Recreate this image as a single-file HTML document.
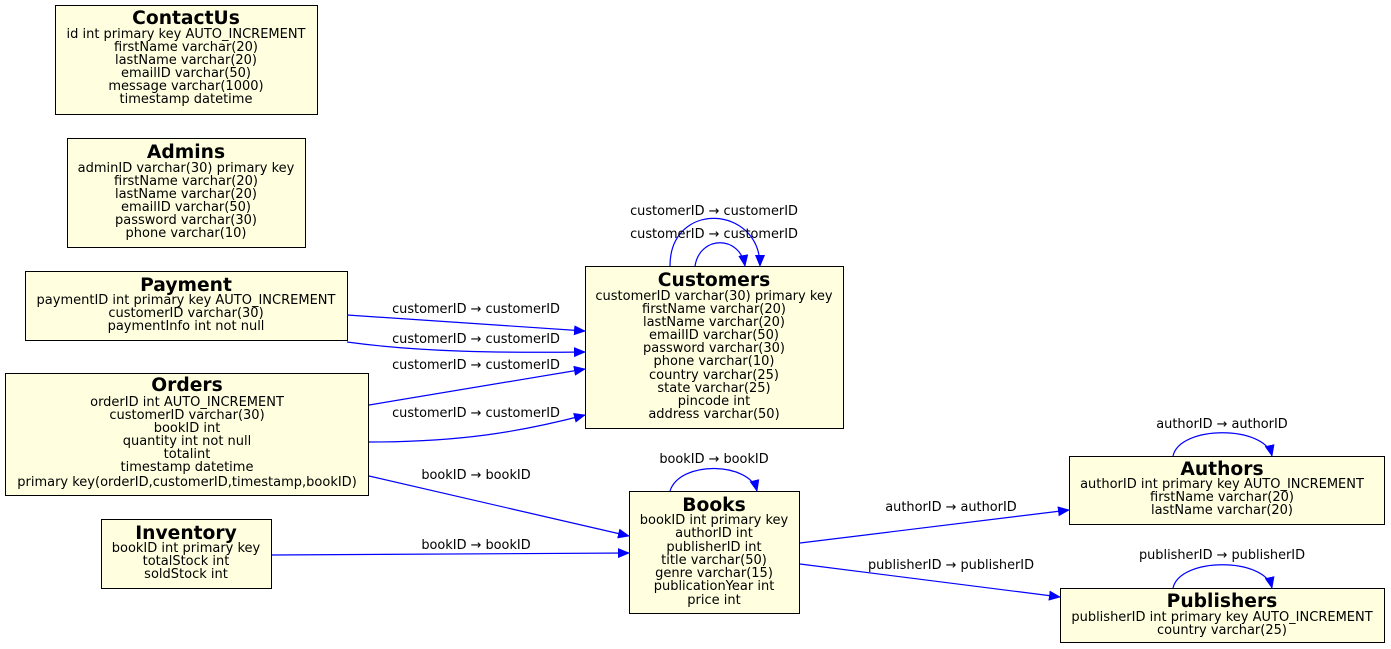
<!DOCTYPE html>
<html><head><meta charset="utf-8"><style>
html,body{margin:0;padding:0;background:#fff}
svg{display:block}
text{font-family:"DejaVu Sans","Liberation Sans",sans-serif;text-anchor:middle;fill:#000}
.t{font-weight:bold;font-size:18.7px}
.r{font-size:13px}
.e{font-size:12.9px}
rect{fill:#ffffe0;stroke:#000;stroke-width:1}
path{fill:none;stroke:#00f;stroke-width:1.2}
</style></head><body>
<svg width="1391" height="649" viewBox="0 0 1391 649" xmlns="http://www.w3.org/2000/svg">
<defs><marker id="a" markerWidth="12" markerHeight="10" refX="11" refY="5" orient="auto" markerUnits="userSpaceOnUse"><polygon points="0,0 12,5 0,10" fill="#00f"/></marker></defs>

<rect x="55.5" y="5.5" width="262" height="109"/>
<text class="t" x="186" y="24">ContactUs</text>
<text class="r" x="186" y="38">id int primary key AUTO_INCREMENT</text>
<text class="r" x="186" y="51">firstName varchar(20)</text>
<text class="r" x="186" y="64">lastName varchar(20)</text>
<text class="r" x="186" y="77">emailID varchar(50)</text>
<text class="r" x="186" y="90">message varchar(1000)</text>
<text class="r" x="186" y="103">timestamp datetime</text>

<rect x="67.5" y="138.5" width="238" height="109"/>
<text class="t" x="186" y="158">Admins</text>
<text class="r" x="186" y="172">adminID varchar(30) primary key</text>
<text class="r" x="186" y="185">firstName varchar(20)</text>
<text class="r" x="186" y="198">lastName varchar(20)</text>
<text class="r" x="186" y="211">emailID varchar(50)</text>
<text class="r" x="186" y="224">password varchar(30)</text>
<text class="r" x="186" y="237">phone varchar(10)</text>

<rect x="25.5" y="271.5" width="322" height="69"/>
<text class="t" x="186" y="291">Payment</text>
<text class="r" x="186" y="304">paymentID int primary key AUTO_INCREMENT</text>
<text class="r" x="186" y="317">customerID varchar(30)</text>
<text class="r" x="186" y="330">paymentInfo int not null</text>

<rect x="5.5" y="373.5" width="363" height="122"/>
<text class="t" x="187" y="391">Orders</text>
<text class="r" x="187" y="406">orderID int AUTO_INCREMENT</text>
<text class="r" x="187" y="419">customerID varchar(30)</text>
<text class="r" x="187" y="432">bookID int</text>
<text class="r" x="187" y="445">quantity int not null</text>
<text class="r" x="187" y="458">totalint</text>
<text class="r" x="187" y="471">timestamp datetime</text>
<text class="r" x="187" y="486">primary key(orderID,customerID,timestamp,bookID)</text>

<rect x="101.5" y="519.5" width="170" height="69"/>
<text class="t" x="186" y="539">Inventory</text>
<text class="r" x="186" y="552">bookID int primary key</text>
<text class="r" x="186" y="565">totalStock int</text>
<text class="r" x="186" y="578">soldStock int</text>

<rect x="585.5" y="266.5" width="258" height="162"/>
<text class="t" x="714" y="286">Customers</text>
<text class="r" x="714" y="300">customerID varchar(30) primary key</text>
<text class="r" x="714" y="313">firstName varchar(20)</text>
<text class="r" x="714" y="326">lastName varchar(20)</text>
<text class="r" x="714" y="339">emailID varchar(50)</text>
<text class="r" x="714" y="352">password varchar(30)</text>
<text class="r" x="714" y="365">phone varchar(10)</text>
<text class="r" x="714" y="379">country varchar(25)</text>
<text class="r" x="714" y="392">state varchar(25)</text>
<text class="r" x="714" y="405">pincode int</text>
<text class="r" x="714" y="418">address varchar(50)</text>

<rect x="629.5" y="491.5" width="170" height="122"/>
<text class="t" x="714" y="511">Books</text>
<text class="r" x="714" y="524">bookID int primary key</text>
<text class="r" x="714" y="537">authorID int</text>
<text class="r" x="714" y="551">publisherID int</text>
<text class="r" x="714" y="564">title varchar(50)</text>
<text class="r" x="714" y="577">genre varchar(15)</text>
<text class="r" x="714" y="590">publicationYear int</text>
<text class="r" x="714" y="604">price int</text>

<rect x="1069.5" y="456.5" width="315" height="68"/>
<text class="t" x="1222" y="475">Authors</text>
<text class="r" x="1222" y="488">authorID int primary key AUTO_INCREMENT</text>
<text class="r" x="1222" y="501">firstName varchar(20)</text>
<text class="r" x="1222" y="514">lastName varchar(20)</text>

<rect x="1060.5" y="588.5" width="324" height="54"/>
<text class="t" x="1222" y="607">Publishers</text>
<text class="r" x="1222" y="621">publisherID int primary key AUTO_INCREMENT</text>
<text class="r" x="1222" y="634">country varchar(25)</text>

<path d="M347,315 L585,331" marker-end="url(#a)"/>
<text class="e" x="476" y="313">customerID → customerID</text>
<path d="M347,342 C420,352 500,353 585,352" marker-end="url(#a)"/>
<text class="e" x="476" y="343">customerID → customerID</text>
<path d="M369,405 L585,369" marker-end="url(#a)"/>
<text class="e" x="476" y="369">customerID → customerID</text>
<path d="M369,442 C460,442 520,432 585,415" marker-end="url(#a)"/>
<text class="e" x="476" y="417">customerID → customerID</text>
<path d="M369,476 L629,536" marker-end="url(#a)"/>
<text class="e" x="476" y="479">bookID → bookID</text>
<path d="M272,555 L629,553" marker-end="url(#a)"/>
<text class="e" x="476" y="549">bookID → bookID</text>
<path d="M800,543 L1069,510" marker-end="url(#a)"/>
<text class="e" x="951" y="511">authorID → authorID</text>
<path d="M800,564 L1060,597" marker-end="url(#a)"/>
<text class="e" x="951" y="569">publisherID → publisherID</text>

<path d="M670,266 C670,200 760,205 760,266" marker-end="url(#a)"/>
<text class="e" x="714" y="215">customerID → customerID</text>
<path d="M695,266 C700,235 740,235 745,266" marker-end="url(#a)"/>
<text class="e" x="714" y="238">customerID → customerID</text>
<path d="M670,491 C680,460 750,462 757,491" marker-end="url(#a)"/>
<text class="e" x="714" y="463">bookID → bookID</text>
<path d="M1173,456 C1180,425 1265,425 1272,456" marker-end="url(#a)"/>
<text class="e" x="1222" y="428">authorID → authorID</text>
<path d="M1173,588 C1180,557 1265,557 1272,588" marker-end="url(#a)"/>
<text class="e" x="1222" y="559">publisherID → publisherID</text>
</svg>
</body></html>
